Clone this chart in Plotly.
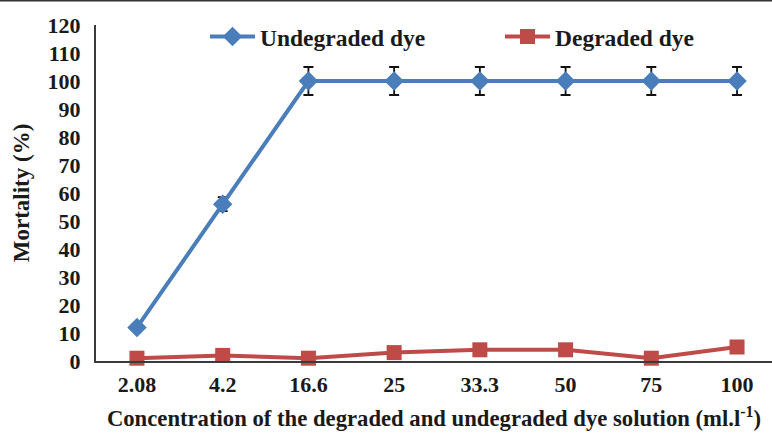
import plotly.graph_objects as go

# Concentrations (ml.l-1) and mortality (%)
concentrations = ["2.08", "4.2", "16.6", "25", "33.3", "50", "75", "100"]
undegraded = [12, 56, 100, 100, 100, 100, 100, 100]
undegraded_err = [0, 2.5, 5, 5, 5, 5, 5, 5]
degraded = [1, 2, 1, 3, 4, 4, 1, 5]
y_ticks = list(range(0, 121, 10))

idx = list(range(len(concentrations)))
font_family = "Times New Roman, Liberation Serif, DejaVu Serif, serif"
ink = "#1a1a1a"

fig = go.Figure()
fig.add_trace(go.Scatter(
    x=idx, y=undegraded, name="<b>Undegraded dye</b>", mode="lines+markers",
    line=dict(color="#4A7EBB", width=4),
    marker=dict(symbol="diamond", size=15, color="#4A7EBB"),
    error_y=dict(type="data", array=undegraded_err, visible=True,
                 color="#111111", thickness=1.8, width=5),
    cliponaxis=False, legend="legend",
))
fig.add_trace(go.Scatter(
    x=idx, y=degraded, name="<b>Degraded dye</b>", mode="lines+markers",
    line=dict(color="#BE4B48", width=4),
    marker=dict(symbol="square", size=15, color="#BE4B48"),
    cliponaxis=False, legend="legend2",
))

legend_style = dict(
    orientation="h", yanchor="middle", xanchor="left", y=0.965,
    font=dict(family=font_family, size=23.5, color=ink),
    bgcolor="rgba(0,0,0,0)", itemwidth=45,
)

fig.update_layout(
    width=772, height=433,
    margin=dict(l=96, r=0, t=25, b=72),
    paper_bgcolor="white", plot_bgcolor="white",
    font=dict(family=font_family, color=ink, size=22),
    showlegend=True,
    legend=dict(legend_style, x=(205 - 96) / 676),
    legend2=dict(legend_style, x=(500 - 96) / 676),
    xaxis=dict(
        range=[-0.478, 7.408], tickvals=idx,
        ticktext=["<b>%s</b>" % c for c in concentrations],
        showline=True, linecolor="#3a3a3a", linewidth=2, showgrid=False, zeroline=False,
        ticks="", tickfont=dict(family=font_family, size=22), ticklabelstandoff=3,
        title=dict(text="<b>Concentration of the degraded and undegraded dye solution (ml.l<sup>-1</sup>)</b>",
                   font=dict(family=font_family, size=22.7), standoff=14),
    ),
    yaxis=dict(
        range=[0, 120], tickvals=y_ticks, ticktext=["<b>%d</b>" % v for v in y_ticks],
        showline=True, linecolor="#3a3a3a", linewidth=2, showgrid=False, zeroline=False,
        ticks="", tickfont=dict(family=font_family, size=22), ticklabelstandoff=9,
        title=dict(text="<b>Mortality (%)</b>", font=dict(family=font_family, size=23), standoff=12),
    ),
    shapes=[dict(type="line", xref="paper", yref="paper",
                 x0=-0.2, x1=1.0, y0=1 + 25 / 336, y1=1 + 25 / 336,
                 line=dict(color="#333333", width=3))],
)

fig.write_html("out.html")
